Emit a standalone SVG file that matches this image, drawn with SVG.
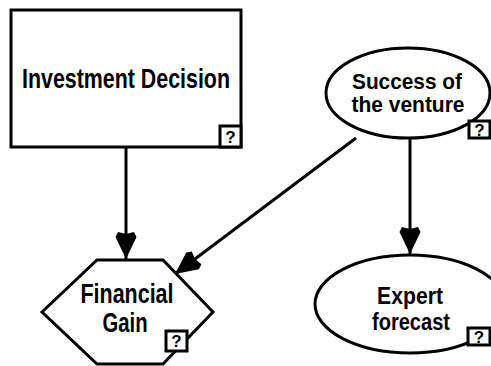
<svg xmlns="http://www.w3.org/2000/svg" width="491" height="366" viewBox="0 0 491 366">
<style>
.shape{fill:#fff;stroke:#000;stroke-width:3}
.lbl{font-family:"Liberation Sans",Arial,sans-serif;font-weight:bold;font-size:27px;fill:#000;text-anchor:middle}
.sm{font-size:22px}
.md{font-size:23px}
.q{fill:#fff;stroke:#000;stroke-width:3}
.qt{font-family:"Liberation Sans",Arial,sans-serif;font-weight:bold;font-size:17px;fill:#000;text-anchor:middle}
.edge{fill:none;stroke:#000;stroke-width:3}
</style>
<defs>
<marker id="arr" markerUnits="userSpaceOnUse" markerWidth="32" markerHeight="26" viewBox="-30 -13 32 26" refX="0" refY="0" orient="auto">
<path d="M0,0 L-22,-10.5 L-27,-8 L-25,0 L-27,8 L-22,10.5 Z" fill="#000"/>
</marker>
</defs>
<rect width="491" height="366" fill="#fff"/>
<g id="connectors">
<line class="edge" x1="126" y1="147" x2="126" y2="259" marker-end="url(#arr)"/>
<line class="edge" x1="356" y1="138" x2="175" y2="274" marker-end="url(#arr)"/>
<line class="edge" x1="410" y1="139" x2="410" y2="254" marker-end="url(#arr)"/>
</g>
<g id="investment-decision">
<rect class="shape" x="11" y="10" width="230" height="137"/>
<text class="lbl" x="126" y="88" textLength="208" lengthAdjust="spacingAndGlyphs">Investment Decision</text>
<rect class="q" x="220" y="126" width="21" height="21"/>
<text class="qt" x="230.5" y="143">?</text>
</g>
<g id="success-of-the-venture">
<ellipse class="shape" cx="408" cy="93" rx="82" ry="45"/>
<text class="lbl sm" x="407" y="89" textLength="110" lengthAdjust="spacingAndGlyphs">Success of</text>
<text class="lbl sm" x="408" y="112" textLength="113" lengthAdjust="spacingAndGlyphs">the venture</text>
<rect class="q" x="469" y="121" width="21" height="17"/>
<text class="qt" x="479.5" y="136">?</text>
</g>
<g id="financial-gain">
<polygon class="shape" points="42,312 97,260 163,260 213,312 163,364 97,364"/>
<text class="lbl" x="127" y="303" textLength="93" lengthAdjust="spacingAndGlyphs">Financial</text>
<text class="lbl" x="125" y="332" textLength="45" lengthAdjust="spacingAndGlyphs">Gain</text>
<rect class="q" x="166" y="331" width="21" height="20"/>
<text class="qt" x="176.5" y="347">?</text>
</g>
<g id="expert-forecast">
<ellipse class="shape" cx="410" cy="304" rx="95" ry="49"/>
<text class="lbl md" x="410" y="304" textLength="66" lengthAdjust="spacingAndGlyphs">Expert</text>
<text class="lbl md" x="411" y="330" textLength="78" lengthAdjust="spacingAndGlyphs">forecast</text>
<rect class="q" x="468" y="328" width="22" height="17"/>
<text class="qt" x="479" y="343">?</text>
</g>
</svg>
